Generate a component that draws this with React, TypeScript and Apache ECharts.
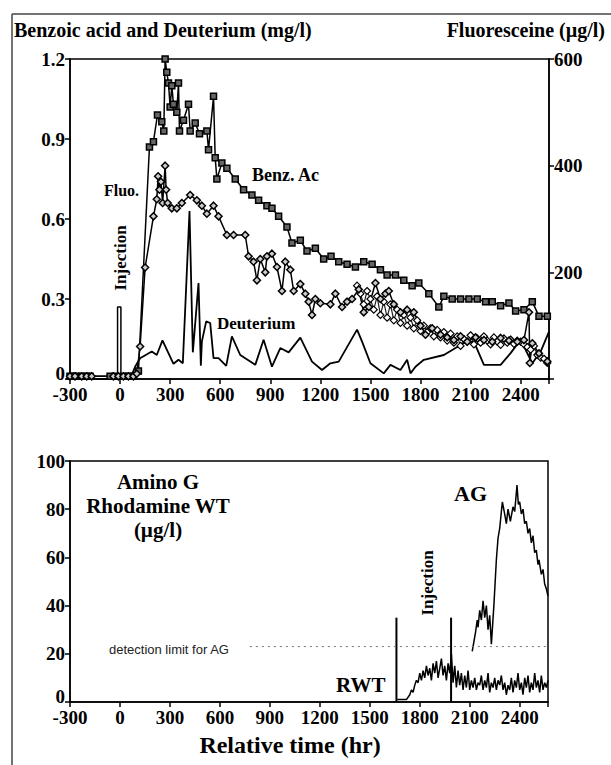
import React, { useEffect, useRef } from "react";
import * as echarts from "echarts";

// ---------- Top panel data (time in hr) ----------
const benzoicAcid: [number, number][] = [
  [-300, 0.01], [-280, 0.01], [-260, 0.01], [-230, 0.01], [-200, 0.01], [-180, 0.01],
  [-60, 0.01], [-30, 0.01], [20, 0.01], [50, 0.01], [80, 0.01], [110, 0.03],
  [176, 0.87], [200, 0.89], [224, 0.99], [250, 0.965], [262, 0.93], [270, 1.2],
  [280, 1.15], [290, 1.11], [300, 1.02], [310, 1.1], [320, 1.03], [340, 1.0],
  [350, 1.11], [356, 0.93], [380, 0.97], [410, 1.03], [420, 0.93], [450, 0.96],
  [476, 0.92], [520, 0.93], [530, 0.86], [560, 1.06], [570, 0.83], [580, 0.75],
  [610, 0.81], [640, 0.79], [690, 0.75], [740, 0.71], [790, 0.69], [830, 0.67],
  [880, 0.65], [910, 0.64], [950, 0.61], [1000, 0.57], [1030, 0.51], [1080, 0.52],
  [1120, 0.48], [1170, 0.49], [1220, 0.45], [1264, 0.46], [1310, 0.44], [1360, 0.43],
  [1410, 0.42], [1460, 0.44], [1510, 0.43], [1560, 0.41], [1600, 0.39], [1650, 0.39],
  [1700, 0.37], [1750, 0.35], [1790, 0.36], [1850, 0.32], [1910, 0.27], [1940, 0.31],
  [1990, 0.3], [2040, 0.3], [2090, 0.3], [2140, 0.3], [2190, 0.29], [2230, 0.29],
  [2280, 0.275], [2330, 0.285], [2370, 0.255], [2420, 0.26], [2470, 0.29], [2510, 0.235],
  [2560, 0.235],
];

const fluoresceine: [number, number][] = [
  [-300, 5], [-270, 5], [-230, 5], [-200, 5], [-170, 5], [-40, 5], [-10, 5], [20, 5],
  [50, 5], [80, 5], [100, 10], [120, 61], [150, 209], [200, 305], [220, 337], [228, 380],
  [236, 355], [245, 370], [255, 330], [270, 400], [276, 355], [285, 330], [310, 320],
  [340, 320], [370, 330], [420, 345], [460, 335], [490, 325], [520, 310], [560, 325],
  [590, 305], [640, 270], [680, 270], [750, 270], [770, 230], [800, 220], [820, 185],
  [840, 225], [870, 200], [880, 230], [910, 235], [940, 210], [970, 165], [990, 220],
  [1020, 205], [1040, 165], [1080, 178], [1110, 160], [1130, 145], [1150, 120],
  [1170, 150], [1200, 142], [1260, 140], [1290, 160], [1330, 135], [1360, 145],
  [1390, 150], [1430, 168], [1460, 125], [1490, 135], [1530, 180], [1560, 150],
  [1590, 160], [1610, 165], [1640, 140], [1680, 125], [1720, 130], [1760, 125],
  [1800, 100], [1830, 83], [1870, 95], [1920, 83], [1960, 78], [2000, 73], [2040, 80],
  [2080, 70], [2130, 78], [2180, 73], [2230, 70], [2280, 77], [2330, 72], [2380, 70],
  [2420, 73], [2450, 125], [2455, 30], [2470, 67], [2510, 48], [2560, 33],
];

const fluoresceine2: [number, number][] = [
  [1420, 175], [1440, 160], [1460, 140], [1480, 165], [1500, 150], [1520, 130],
  [1540, 155], [1560, 120], [1580, 145], [1600, 115], [1620, 140], [1640, 110],
  [1660, 130], [1680, 105], [1700, 120], [1720, 100], [1740, 115], [1760, 95],
  [1780, 110], [1800, 90], [1820, 100], [1840, 88], [1860, 95], [1880, 80], [1900, 92],
  [1920, 78], [1940, 88], [1960, 72], [1980, 85], [2000, 68], [2020, 80], [2040, 62],
  [2060, 75], [2080, 70], [2100, 82], [2120, 65], [2140, 76], [2160, 68], [2180, 80],
  [2200, 72], [2220, 65], [2240, 78], [2260, 70], [2280, 64], [2300, 76], [2320, 68],
  [2340, 74], [2360, 66], [2380, 72], [2400, 70], [2420, 65], [2440, 60], [2460, 55],
  [2480, 62], [2500, 45], [2520, 40], [2540, 38], [2560, 30],
];

const deuterium: [number, number][] = [
  [-300, 0], [-200, 0], [-100, 0], [0, 0], [60, 0], [90, 0.046], [120, 0.078],
  [190, 0.103], [220, 0.09], [254, 0.145], [320, 0.057], [350, 0.072], [376, 0.059],
  [416, 0.63], [436, 0.1], [470, 0.36], [484, 0.05], [490, 0.14], [516, 0.216],
  [540, 0.21], [560, 0.078], [590, 0.078], [636, 0.049], [670, 0.16], [720, 0.09],
  [810, 0.053], [860, 0.147], [910, 0.046], [960, 0.116], [1010, 0.1], [1080, 0.155],
  [1150, 0.065], [1210, 0.034], [1260, 0.059], [1310, 0.065], [1420, 0.185],
  [1450, 0.14], [1500, 0.059], [1580, 0.021], [1620, 0.053], [1680, 0.034],
  [1720, 0.072], [1740, 0.021], [1770, 0.046], [1820, 0.072], [1940, 0.09],
  [2060, 0.135], [2120, 0.14], [2180, 0.053], [2280, 0.053], [2340, 0.097],
  [2400, 0.147], [2470, 0.059], [2520, 0.103], [2570, 0.178],
];

const topInjection: [number, number][] = [[-15, 0], [-15, 0.27], [5, 0.27], [5, 0]];

// ---------- Bottom panel data ----------
const rwt: [number, number][] = [
  [1665, 1], [1690, 1], [1720, 1], [1740, 3], [1750, 5], [1760, 4], [1770, 7],
  [1780, 9], [1790, 8], [1800, 12], [1810, 9], [1820, 13], [1830, 10], [1840, 15],
  [1850, 11], [1860, 14], [1870, 9], [1880, 16], [1890, 12], [1900, 17], [1910, 10],
  [1920, 14], [1930, 18], [1940, 11], [1950, 15], [1960, 9], [1970, 16], [1980, 12],
  [1990, 20], [2000, 8], [2010, 15], [2020, 6], [2030, 13], [2040, 7], [2050, 12],
  [2060, 5], [2070, 11], [2080, 6], [2090, 13], [2100, 5], [2110, 9], [2120, 6],
  [2130, 10], [2140, 5], [2150, 8], [2160, 7], [2170, 11], [2180, 5], [2190, 9],
  [2200, 6], [2210, 12], [2220, 4], [2230, 8], [2240, 6], [2250, 10], [2260, 5],
  [2270, 9], [2280, 7], [2290, 11], [2300, 5], [2310, 8], [2320, 3], [2330, 7],
  [2340, 5], [2350, 10], [2360, 4], [2370, 9], [2380, 6], [2390, 12], [2400, 5],
  [2410, 8], [2420, 3], [2430, 10], [2440, 6], [2450, 11], [2460, 4], [2470, 8],
  [2480, 5], [2490, 12], [2500, 6], [2510, 9], [2520, 4], [2530, 11], [2540, 5],
  [2550, 8], [2560, 6], [2570, 9],
];

const aminoG: [number, number][] = [
  [2115, 21], [2125, 25], [2135, 29], [2145, 34], [2150, 31], [2160, 38], [2170, 34],
  [2180, 42], [2190, 35], [2200, 40], [2210, 30], [2220, 36], [2230, 24], [2245, 40],
  [2260, 59], [2270, 68], [2280, 72], [2290, 79], [2296, 83], [2310, 78], [2320, 74],
  [2330, 80], [2344, 75], [2360, 81], [2370, 79], [2384, 90], [2392, 82], [2400, 83],
  [2410, 78], [2420, 80], [2430, 74], [2440, 75], [2450, 70], [2460, 72], [2470, 66],
  [2480, 69], [2490, 62], [2500, 63], [2510, 57], [2516, 59], [2530, 53], [2540, 55],
  [2550, 49], [2560, 47], [2570, 44],
];

const rwtInjection: [number, number][] = [[1660, 0], [1660, 35]];
const agInjection: [number, number][] = [[1988, 0], [1988, 35]];
const detectionLimit: [number, number][] = [[780, 23], [2570, 23]];

const xTicks = [-300, 0, 300, 600, 900, 1200, 1500, 1800, 2100, 2400];
const X_MIN = -300;
const X_MAX = 2570;

const SERIF = "'Liberation Serif', 'DejaVu Serif', serif";

export default function App() {
  const ref = useRef<HTMLDivElement>(null);

  useEffect(() => {
    if (!ref.current) return;
    const chart = echarts.init(ref.current, null, { renderer: "svg" });

    const axisLine = { show: true, onZero: false, lineStyle: { color: "#000", width: 1.5 } };
    const axisTick = { show: true, length: 5, inside: false, lineStyle: { color: "#000", width: 1.5 } };
    const tickLabel = { color: "#000", fontFamily: SERIF, fontWeight: "bold" as const, fontSize: 19 };

    const xAxisBase = (gridIndex: number) => ({
      type: "value" as const,
      gridIndex,
      min: X_MIN,
      max: X_MAX,
      interval: 300,
      axisLine,
      axisTick,
      splitLine: { show: false },
      axisLabel: {
        ...tickLabel,
        margin: 6,
        formatter: (v: number) => (xTicks.includes(v) ? String(v) : ""),
      },
    });

    const black = "#000";

    chart.setOption({
      animation: false,
      backgroundColor: "#fff",
      grid: [
        { left: 70, right: 62, top: 59, height: 320, show: true, borderColor: "#000", borderWidth: 1.5 },
        { left: 70, right: 63, top: 461, height: 241, show: true, borderColor: "#000", borderWidth: 1.5 },
      ],
      xAxis: [xAxisBase(0), xAxisBase(1)],
      yAxis: [
        {
          type: "value", gridIndex: 0, min: 0, max: 1.2, interval: 0.3,
          axisLine, axisTick, splitLine: { show: false },
          axisLabel: {
            ...tickLabel, margin: 5,
            formatter: (v: number) => (v === 0 ? "" : v.toFixed(1)),
          },
        },
        {
          type: "value", gridIndex: 0, min: 0, max: 600, interval: 200, position: "right",
          axisLine, axisTick, splitLine: { show: false },
          axisLabel: { ...tickLabel, margin: 5, formatter: (v: number) => (v === 0 ? "" : String(v)) },
        },
        {
          type: "value", gridIndex: 1, min: 0, max: 100, interval: 20,
          axisLine, axisTick, splitLine: { show: false },
          axisLabel: {
            ...tickLabel, margin: 5,
            formatter: (v: number) => (v === 0 ? "" : String(v)),
          },
        },
      ],
      series: [
        {
          name: "Benz. Ac", type: "line", xAxisIndex: 0, yAxisIndex: 0, data: benzoicAcid,
          symbol: "rect", symbolSize: 6, showAllSymbol: true,
          lineStyle: { color: black, width: 1.5 },
          itemStyle: { color: "#666", borderColor: black, borderWidth: 1.5 },
        },
        {
          name: "Fluo. 2", type: "line", xAxisIndex: 0, yAxisIndex: 1, data: fluoresceine2,
          symbol: "diamond", symbolSize: 7, showAllSymbol: true,
          lineStyle: { color: "#222", width: 1.2 },
          itemStyle: { color: "#fff", borderColor: black, borderWidth: 1.2 },
        },
        {
          name: "Fluo.", type: "line", xAxisIndex: 0, yAxisIndex: 1, data: fluoresceine,
          symbol: "diamond", symbolSize: 7, showAllSymbol: true,
          lineStyle: { color: black, width: 1.5 },
          itemStyle: { color: "#ccc", borderColor: black, borderWidth: 1.5 },
        },
        {
          name: "Deuterium", type: "line", xAxisIndex: 0, yAxisIndex: 0, data: deuterium,
          symbol: "none", lineStyle: { color: black, width: 1.8 },
        },
        {
          name: "Injection top", type: "line", xAxisIndex: 0, yAxisIndex: 0, data: topInjection,
          symbol: "none", lineStyle: { color: black, width: 1.5 },
        },
        {
          name: "RWT", type: "line", xAxisIndex: 1, yAxisIndex: 2, data: rwt,
          symbol: "none", lineStyle: { color: black, width: 1.5 },
        },
        {
          name: "AG", type: "line", xAxisIndex: 1, yAxisIndex: 2, data: aminoG,
          symbol: "none", lineStyle: { color: black, width: 1.5 },
        },
        {
          name: "RWT injection", type: "line", xAxisIndex: 1, yAxisIndex: 2, data: rwtInjection,
          symbol: "none", lineStyle: { color: black, width: 2 },
        },
        {
          name: "AG injection", type: "line", xAxisIndex: 1, yAxisIndex: 2, data: agInjection,
          symbol: "none", lineStyle: { color: black, width: 2 },
        },
        {
          name: "Detection limit", type: "line", xAxisIndex: 1, yAxisIndex: 2, data: detectionLimit,
          symbol: "none", lineStyle: { color: "#777", width: 1, type: [2, 4] },
        },
      ],
      graphic: [
        { type: "line", shape: { x1: 12, y1: 14, x2: 611, y2: 14 }, style: { stroke: "#444", lineWidth: 1.5 } },
        { type: "line", shape: { x1: 12, y1: 14, x2: 12, y2: 765 }, style: { stroke: "#444", lineWidth: 1.5 } },
        {
          type: "text", x: 14, y: 30,
          style: { text: "Benzoic acid and Deuterium (mg/l)", font: `bold 20px ${SERIF}`, fill: "#000", verticalAlign: "middle" },
        },
        {
          type: "text", x: 605, y: 30,
          style: { text: "Fluoresceine (µg/l)", font: `bold 20px ${SERIF}`, fill: "#000", align: "right", verticalAlign: "middle" },
        },
        // zero labels of the two left axes, nudged up so they clear the "-300" below
        {
          type: "text", x: 65, y: 373,
          style: { text: "0", font: `bold 19px ${SERIF}`, fill: "#000", align: "right", verticalAlign: "middle" },
        },
        {
          type: "text", x: 65, y: 696,
          style: { text: "0", font: `bold 19px ${SERIF}`, fill: "#000", align: "right", verticalAlign: "middle" },
        },
        { type: "text", x: 252, y: 175, style: { text: "Benz. Ac", font: `bold 18px ${SERIF}`, fill: "#000", verticalAlign: "middle" } },
        { type: "text", x: 104, y: 190, style: { text: "Fluo.", font: `bold 16px ${SERIF}`, fill: "#000", verticalAlign: "middle" } },
        {
          type: "text", x: 120, y: 258, rotation: Math.PI / 2,
          style: { text: "Injection", font: `bold 17px ${SERIF}`, fill: "#000", align: "center", verticalAlign: "middle" },
        },
        { type: "text", x: 217, y: 323, style: { text: "Deuterium", font: `bold 17px ${SERIF}`, fill: "#000", verticalAlign: "middle" } },
        {
          type: "text", x: 158, y: 482,
          style: { text: "Amino G", font: `bold 21px ${SERIF}`, fill: "#000", align: "center", verticalAlign: "middle" },
        },
        {
          type: "text", x: 158, y: 506,
          style: { text: "Rhodamine WT", font: `bold 21px ${SERIF}`, fill: "#000", align: "center", verticalAlign: "middle" },
        },
        {
          type: "text", x: 158, y: 530,
          style: { text: "(µg/l)", font: `bold 21px ${SERIF}`, fill: "#000", align: "center", verticalAlign: "middle" },
        },
        {
          type: "text", x: 454, y: 493,
          style: { text: "AG", font: `bold 22px ${SERIF}`, fill: "#000", verticalAlign: "middle" },
        },
        {
          type: "text", x: 427, y: 583, rotation: Math.PI / 2,
          style: { text: "Injection", font: `bold 17px ${SERIF}`, fill: "#000", align: "center", verticalAlign: "middle" },
        },
        {
          type: "text", x: 336, y: 685,
          style: { text: "RWT", font: `bold 21px ${SERIF}`, fill: "#000", verticalAlign: "middle" },
        },
        {
          type: "text", x: 109, y: 649,
          style: { text: "detection limit for AG", font: `13px 'Liberation Sans Narrow', 'Liberation Sans', sans-serif`, fill: "#222", verticalAlign: "middle" },
        },
        {
          type: "text", x: 290, y: 745,
          style: { text: "Relative time (hr)", font: `bold 24px ${SERIF}`, fill: "#000", align: "center", verticalAlign: "middle" },
        },
      ],
    });

    return () => chart.dispose();
  }, []);

  return (
    <div
      ref={ref}
      style={{ position: "fixed", left: 0, top: 0, width: 611, height: 765, background: "#fff" }}
    />
  );
}
